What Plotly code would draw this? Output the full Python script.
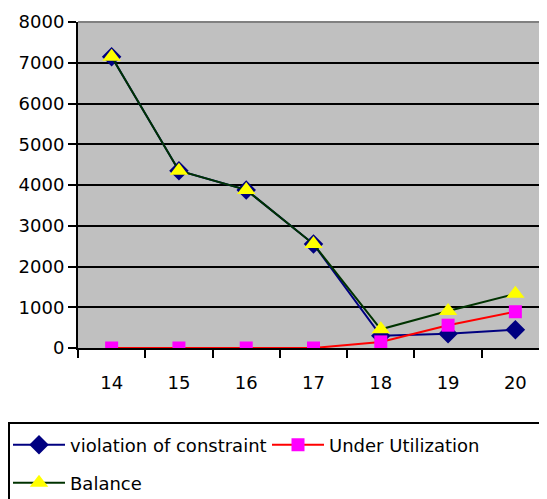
import plotly.graph_objs as go

# categories and series
periods = ['14', '15', '16', '17', '18', '19', '20']
violation = [7150, 4350, 3880, 2550, 300, 350, 450]
under_util = [0, 0, 0, 0, 150, 560, 890]
balance = [7150, 4350, 3880, 2550, 460, 910, 1330]

y_ticks = [0, 1000, 2000, 3000, 4000, 5000, 6000, 7000, 8000]

violation_trace = go.Scatter(
    x=periods,
    y=violation,
    mode='lines+markers',
    name='violation of constraint',
    line=dict(color='#000080', width=2),
    marker=dict(symbol='diamond', size=15, color='#000080'),
    legend='legend',
)

under_trace = go.Scatter(
    x=periods,
    y=under_util,
    mode='lines+markers',
    name='Under Utilization',
    line=dict(color='#FF0000', width=2),
    marker=dict(symbol='square', size=13, color='#FF00FF'),
    legend='legend',
)

balance_trace = go.Scatter(
    x=periods,
    y=balance,
    mode='lines+markers',
    name='Balance',
    line=dict(color='#003300', width=2),
    marker=dict(symbol='triangle-up', size=16, color='#FFFF00'),
    legend='legend2',
)

fig = go.Figure(data=[violation_trace, under_trace, balance_trace])

# page has an 8px body margin, so the figure is a bit smaller and shifted
W, H = 539, 491
L, T, B = 70, 14, 151
pw = W - L
ph = H - T - B


def px_x(fx):
    return (fx - L) / pw


def px_y(fy):
    return (H - B - fy) / ph


legend_font = dict(family='DejaVu Sans', size=18, color='black')

fig.update_layout(
    width=W,
    height=H,
    margin=dict(l=L, r=0, t=T, b=B, autoexpand=False),
    paper_bgcolor='white',
    plot_bgcolor='#C0C0C0',
    font=dict(family='DejaVu Sans', size=18, color='black'),
    showlegend=True,
    legend=dict(
        orientation='h',
        x=px_x(0), y=px_y(437),
        xanchor='left', yanchor='middle',
        bgcolor='rgba(0,0,0,0)',
        font=legend_font,
        entrywidth=192,
        itemwidth=52,
    ),
    legend2=dict(
        orientation='h',
        x=px_x(0), y=px_y(475),
        xanchor='left', yanchor='middle',
        bgcolor='rgba(0,0,0,0)',
        font=legend_font,
        itemwidth=52,
    ),
    shapes=[
        # legend frame
        dict(
            type='rect', xref='paper', yref='paper',
            x0=px_x(1), x1=1.2, y0=px_y(415), y1=px_y(600),
            line=dict(color='black', width=2),
            fillcolor='rgba(0,0,0,0)',
            layer='below',
        ),
        # top edge of plot area is grey rather than black
        dict(
            type='line', xref='paper', yref='paper',
            x0=0, x1=1, y0=1, y1=1,
            line=dict(color='#808080', width=2),
            layer='above',
        ),
    ],
)

fig.update_xaxes(
    type='category',
    range=[-0.5, 6.47],
    showgrid=False,
    showline=True,
    linecolor='black',
    linewidth=2,
    ticks='outside',
    tickson='boundaries',
    ticklen=8,
    tickwidth=2,
    tickcolor='black',
    ticklabelstandoff=17,
)

fig.update_yaxes(
    range=[0, 8000],
    tickvals=y_ticks,
    showgrid=True,
    gridcolor='black',
    gridwidth=2,
    zeroline=False,
    showline=True,
    linecolor='black',
    linewidth=2,
    ticks='outside',
    ticklen=8,
    tickwidth=2,
    tickcolor='black',
)

fig.write_html("out.html")
